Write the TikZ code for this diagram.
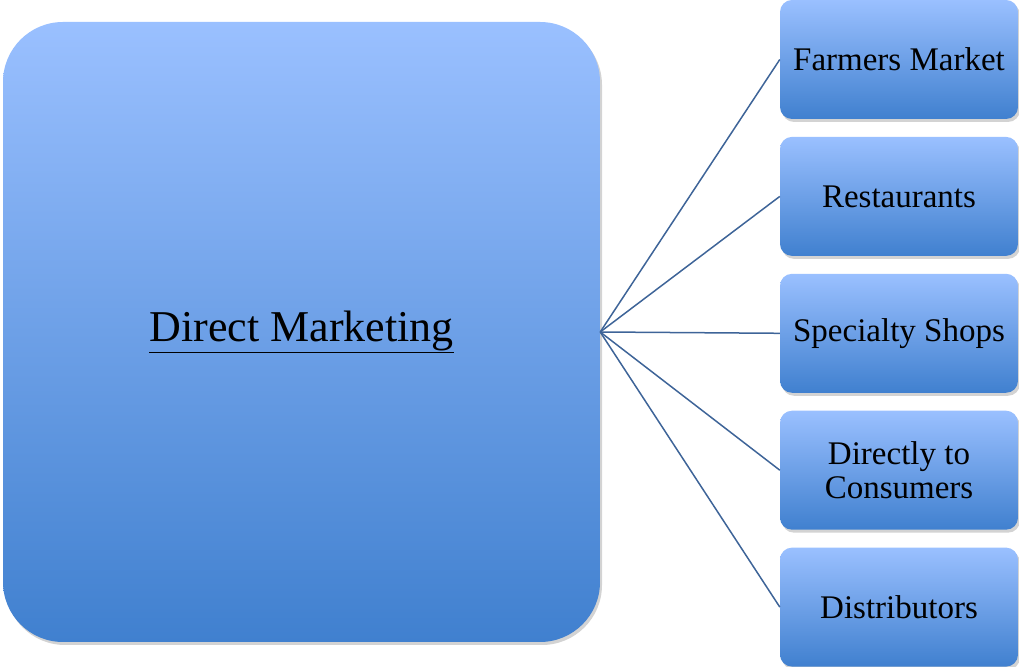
\documentclass[tikz,border=0pt]{standalone}
\usepackage{fontspec}
\setmainfont{Liberation Serif}
\usetikzlibrary{positioning,shadows}
\definecolor{boxtop}{RGB}{154,192,255}
\definecolor{boxbot}{RGB}{64,128,207}
\definecolor{linkblue}{RGB}{62,100,152}
\tikzset{
  hub/.style={rounded corners=60pt, top color=boxtop, bottom color=boxbot,
    minimum width=597pt, minimum height=620pt,
    font=\fontsize{44}{50}\selectfont,
    drop shadow={shadow xshift=2pt, shadow yshift=-3pt, opacity=0.35}},
  outlet/.style={rounded corners=12pt, top color=boxtop, bottom color=boxbot,
    minimum width=238pt, minimum height=119pt, align=center,
    font=\fontsize{33}{34}\selectfont,
    drop shadow={shadow xshift=2pt, shadow yshift=-3pt, opacity=0.35}},
  link/.style={draw=linkblue, line width=1.5pt}
}
\begin{document}
\begin{tikzpicture}[x=1pt, y=1pt, node distance=17.5pt]
  \useasboundingbox (0,0) rectangle (1019,666);
  % Define nodes
  \node[hub] (dm) at (301.5,334) {\underline{Direct Marketing}};
  \node[outlet] (fm) at (899,606.5) {Farmers Market};
  \node[outlet, below=of fm] (rest) {Restaurants};
  \node[outlet, below=of rest] (shops) {Specialty Shops};
  \node[outlet, below=of shops] (cons) {Directly to\\Consumers};
  \node[outlet, below=of cons] (dist) {Distributors};
  % Connect nodes
  \draw[link] (dm.east) -- (fm.west);
  \draw[link] (dm.east) -- (rest.west);
  \draw[link] (dm.east) -- (shops.west);
  \draw[link] (dm.east) -- (cons.west);
  \draw[link] (dm.east) -- (dist.west);
\end{tikzpicture}
\end{document}
